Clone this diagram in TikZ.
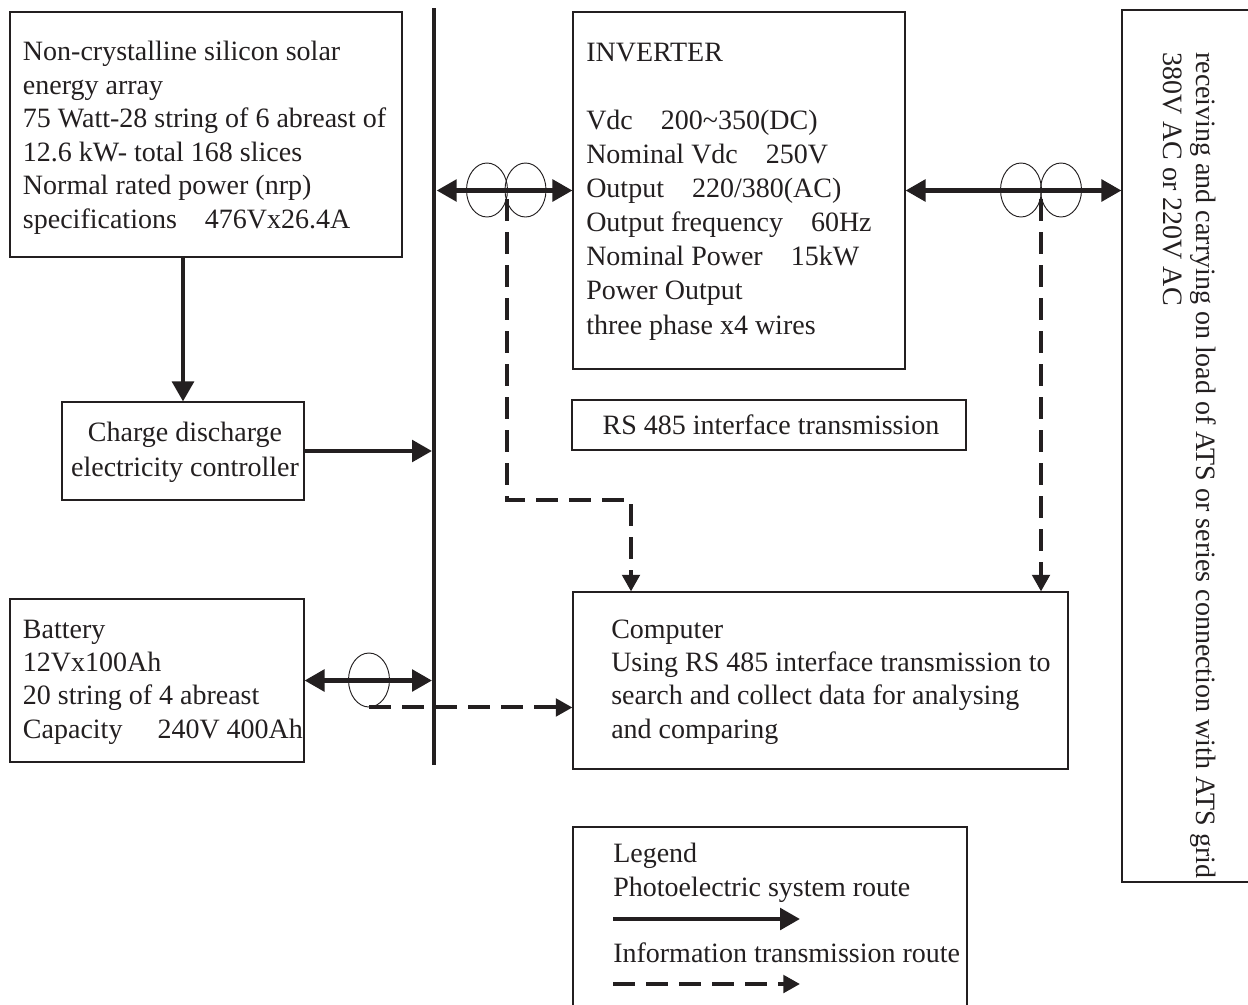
\documentclass[tikz,border=0pt]{standalone}
\usepackage{fontspec}
\setmainfont{Liberation Serif}
\usetikzlibrary{arrows.meta,fit,shapes.geometric}
\definecolor{ink}{HTML}{231F20}
\begin{document}
\begin{tikzpicture}[x=0.75pt,y=-0.75pt,
  box/.style={draw=ink, line width=0.8pt, inner sep=0pt},
  txt/.style={text=ink, font=\fontsize{21}{25.1}\selectfont, align=left, anchor=base west, inner sep=0pt},
  pw/.style={draw=ink, line width=3.4pt, -{Triangle[length=15pt,width=16pt]}},
  pwboth/.style={draw=ink, line width=3.4pt, {Triangle[length=15pt,width=16pt]}-{Triangle[length=15pt,width=16pt]}},
  info/.style={draw=ink, line width=3pt, dash pattern=on 16.5pt off 8.25pt, -{Triangle[length=12.5pt,width=13pt]}},
  loop/.style={draw=ink, line width=0.7pt, ellipse, minimum width=30.75pt, minimum height=40.5pt, inner sep=0pt},
]
\useasboundingbox[fill=white] (0,0) rectangle (1248,1004);

% boxes
\node[box, fit={(10,12) (402,257)}] (solar) {};
\node[box, fit={(62,402) (304,500)}] (charge) {};
\node[box, fit={(10,599) (304,762)}] (battery) {};
\node[box, fit={(573,12) (905,369)}] (inverter) {};
\node[box, fit={(572,400) (966,450)}] (rs) {};
\node[box, fit={(573,592) (1068,769)}] (comp) {};
\node[box, fit={(573,827) (967,1012)}] (legend) {};
\node[box, fit={(1122,10) (1262,882)}] (grid) {};

% texts (multi-line nodes: base anchor = last line's baseline)
\node[txt] (solartxt) at (22.7,228) {Non-crystalline silicon solar\\energy array\\75 Watt-28 string of 6 abreast of\\12.6 kW- total 168 slices\\Normal rated power (nrp)\\specifications\quad 476Vx26.4A};
\node[txt, align=center, anchor=base] (chargetxt) at (185,476) {Charge discharge\\[0.6pt]electricity controller};
\node[txt, font=\fontsize{21}{25}\selectfont] (batttxt) at (22.7,738) {Battery\\12Vx100Ah\\20 string of 4 abreast\\Capacity\hspace{1.25em}240V 400Ah};
\node[txt] (invtitle) at (586,61.7) {INVERTER};
\node[txt, font=\fontsize{21}{25.6}\selectfont] (invtxt) at (586,334) {Vdc\quad 200\textasciitilde350(DC)\\Nominal Vdc\quad 250V\\Output\quad 220/380(AC)\\Output frequency\quad 60Hz\\Nominal Power\quad 15kW\\Power Output\\three phase x4 wires};
\node[txt, anchor=base] (rstxt) at (771,434) {RS 485 interface transmission};
\node[txt, font=\fontsize{21}{24.8}\selectfont] (comptxt) at (611,738) {Computer\\Using RS 485 interface transmission to\\search and collect data for analysing\\and comparing};
\node[txt] (legtxt) at (613,896) {Legend\\Photoelectric system route};
\node[txt] (legtxt2) at (613,962) {Information transmission route};
\node[txt, rotate=-90, font=\fontsize{21}{24.8}\selectfont] (gridtxt) at (1163,52) {receiving and carrying on load of ATS or series connection with ATS grid\\380V AC or 220V AC};

% bus
\coordinate (bustop) at (434,8);
\coordinate (busbot) at (434,765);
\draw[draw=ink, line width=3.4pt] (bustop) -- (busbot);

% current loops
\node[loop] (e1) at (487,190) {};
\node[loop] (e2) at (525.5,190) {};
\node[loop] (e3) at (1021,190) {};
\node[loop] (e4) at (1061,190) {};
\node[loop] (e5) at (369,680) {};
\coordinate (j1) at (507,199);
\coordinate (c1) at (631,500);
\coordinate (j2) at (1041,199);

% power routes
\draw[pw] (charge.north |- solar.south) -- (charge.north);
\draw[pw, shorten >=1.5pt] (charge.east) -- (charge.east -| bustop);
\draw[pwboth, shorten <=2pt] (inverter.west -| bustop) -- (inverter.west);
\draw[pwboth] (inverter.east) -- (inverter.east -| grid.west);
\draw[pwboth, shorten >=1.5pt] (battery.east) -- (battery.east -| bustop);

% information routes
\draw[info] (j1) |- (c1) -- (c1 |- comp.north);
\draw[info] (j2) -- (j2 |- comp.north);
\draw[info] (e5.south) -- (e5.south -| comp.west);

% legend samples
\coordinate (l1) at (613,919);
\coordinate (l2) at (800,919);
\coordinate (l3) at (613,984);
\coordinate (l4) at (800,984);
\draw[pw] (l1) -- (l2);
\draw[info] (l3) -- (l4);
\end{tikzpicture}
\end{document}
